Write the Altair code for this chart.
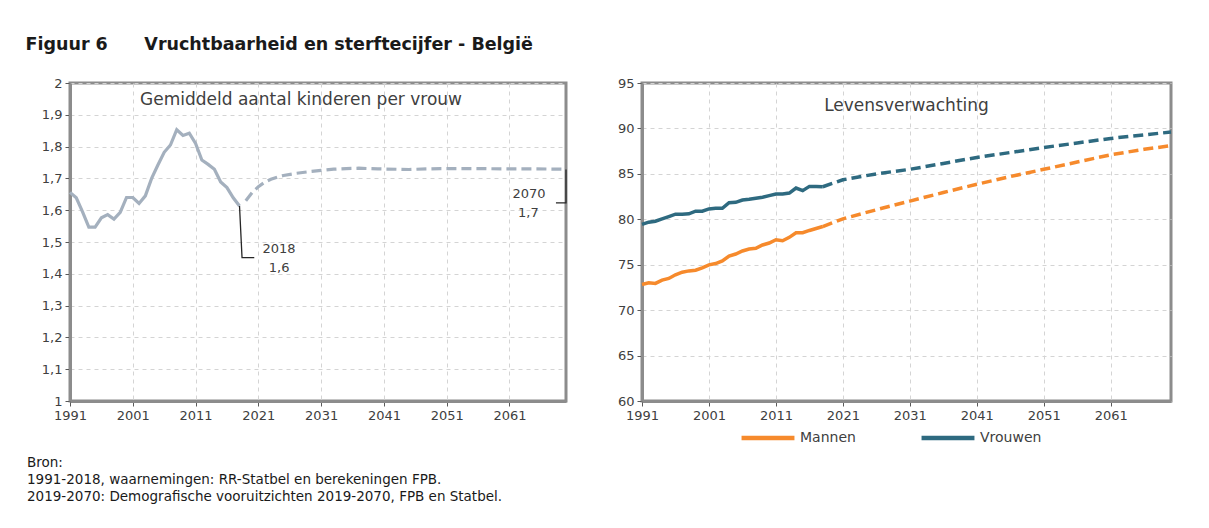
import altair as alt
import pandas as pd

FONT = "DejaVu Sans"
GREY = "#A4B0BE"
ORANGE = "#F68A2C"
TEAL = "#2E6A80"
FRAME = "#8C8C8C"
GRID = "#D4D4D4"
TXT = "#404040"

# ---- data ----
obs_years = list(range(1991, 2019))
fert_obs = [1.656, 1.639, 1.595, 1.547, 1.547, 1.576, 1.586, 1.572, 1.593, 1.640,
            1.640, 1.621, 1.645, 1.700, 1.742, 1.782, 1.805, 1.853, 1.835, 1.842,
            1.810, 1.758, 1.744, 1.729, 1.689, 1.671, 1.639, 1.613]
fert_proj_years = [2019, 2020, 2021, 2022, 2023, 2024, 2025, 2027, 2029, 2031,
                   2033, 2035, 2037, 2040, 2045, 2050, 2055, 2060, 2065, 2070]
fert_proj = [1.630, 1.655, 1.674, 1.688, 1.697, 1.704, 1.709, 1.716, 1.721, 1.725,
             1.729, 1.731, 1.732, 1.730, 1.728, 1.731, 1.731, 1.730, 1.730, 1.729]

le_men_obs = [72.83, 73.01, 72.94, 73.30, 73.49, 73.89, 74.18, 74.32, 74.40, 74.65,
              74.98, 75.13, 75.42, 75.96, 76.18, 76.51, 76.73, 76.80, 77.17, 77.39,
              77.75, 77.64, 78.01, 78.52, 78.52, 78.77, 78.99, 79.20]
le_women_obs = [79.43, 79.68, 79.79, 80.05, 80.30, 80.56, 80.56, 80.60, 80.89, 80.89,
                81.14, 81.21, 81.21, 81.83, 81.87, 82.12, 82.20, 82.31, 82.42, 82.60,
                82.78, 82.78, 82.89, 83.44, 83.15, 83.62, 83.62, 83.58]
le_proj_years = [2018, 2021, 2026, 2031, 2036, 2041, 2046, 2051, 2056, 2061, 2066, 2070]
le_men_proj = [79.20, 80.05, 81.05, 82.00, 82.95, 83.85, 84.70, 85.50, 86.30, 87.10, 87.70, 88.10]
le_women_proj = [83.58, 84.35, 85.00, 85.50, 86.15, 86.80, 87.35, 87.90, 88.40, 88.90, 89.30, 89.60]

sexes = ["Mannen", "Vrouwen"]
x_ticks = [1991, 2001, 2011, 2021, 2031, 2041, 2051, 2061]
fert_ticks = [1.0, 1.1, 1.2, 1.3, 1.4, 1.5, 1.6, 1.7, 1.8, 1.9, 2.0]
le_ticks = [60, 65, 70, 75, 80, 85, 90, 95]

title_text = "Figuur 6" + "\u00a0" * 6 + "Vruchtbaarheid en sterftecijfer - België"
left_label = "Gemiddeld aantal kinderen per vrouw"
right_label = "Levensverwachting"
footer = ("Bron:\n1991-2018, waarnemingen: RR-Statbel en berekeningen FPB.\n"
          "2019-2070: Demografische vooruitzichten 2019-2070, FPB en Statbel.")

# annotations (year, value)
ann_text = ["2018", "1,6", "2070", "1,7"]
ann_x = [2024.3, 2024.3, 2064.1, 2064.0]
ann_y = [1.477, 1.419, 1.651, 1.591]
lead_group = ["a", "a", "a", "b", "b", "b"]
lead_order = [0, 1, 2, 0, 1, 2]
lead_x = [2018.0, 2018.4, 2020.35, 2070.0, 2070.0, 2068.4]
lead_y = [1.613, 1.451, 1.451, 1.728, 1.623, 1.623]

# ---- tables ----
fo = pd.DataFrame({"jaar": obs_years, "waarde": fert_obs})
fp = pd.DataFrame({"jaar": fert_proj_years, "waarde": fert_proj})
ann = pd.DataFrame({"jaar": ann_x, "waarde": ann_y, "t": ann_text})
lead = pd.DataFrame({"jaar": lead_x, "waarde": lead_y, "g": lead_group, "o": lead_order})
lsub = pd.DataFrame({"jaar": [2027.8], "waarde": [1.947], "t": [left_label]})
one = pd.DataFrame({"a": [0]})

leo = pd.concat([
    pd.DataFrame({"jaar": obs_years, "waarde": le_men_obs, "geslacht": sexes[0]}),
    pd.DataFrame({"jaar": obs_years, "waarde": le_women_obs, "geslacht": sexes[1]}),
])
lep = pd.concat([
    pd.DataFrame({"jaar": le_proj_years, "waarde": le_men_proj, "geslacht": sexes[0]}),
    pd.DataFrame({"jaar": le_proj_years, "waarde": le_women_proj, "geslacht": sexes[1]}),
])
rsub = pd.DataFrame({"jaar": [2030.5], "waarde": [92.47], "t": [right_label]})

# ---- encodings ----
xs = alt.Scale(domain=[1991, 2070], nice=False, zero=False)
xax = alt.Axis(values=x_ticks, format="d", title=None, labelFlush=False)
X = alt.X("jaar:Q", scale=xs, axis=xax)

yl = alt.Y("waarde:Q", scale=alt.Scale(domain=[1, 2], nice=False, zero=False),
           axis=alt.Axis(values=fert_ticks, title=None, labelFlush=False,
                         labelExpr="replace(format(datum.value, '.2~f'), '.', ',')"))
yr = alt.Y("waarde:Q", scale=alt.Scale(domain=[60, 95], nice=False, zero=False),
           axis=alt.Axis(values=le_ticks, title=None, format="d", labelFlush=False))

W_L, W_R, H = 496, 529, 318

left = alt.layer(
    alt.Chart(fo).mark_line(color=GREY, strokeWidth=3.2).encode(x=X, y=yl),
    alt.Chart(fp).mark_line(color=GREY, strokeWidth=3.2, strokeDash=[10, 5]).encode(x=X, y=yl),
    alt.Chart(lead).mark_line(color="#262626", strokeWidth=1.3).encode(
        x=X, y=yl, detail="g:N", order="o:Q"),
    alt.Chart(ann).mark_text(font=FONT, fontSize=13, color=TXT).encode(x=X, y=yl, text="t:N"),
    alt.Chart(lsub).mark_text(font=FONT, fontSize=17, color=TXT).encode(x=X, y=yl, text="t:N"),
    alt.Chart(one).mark_text(text=footer, lineBreak="\n", lineHeight=17, font=FONT, fontSize=13.5,
                             color="#1a1a1a", align="left", baseline="middle").encode(
        x=alt.value(-43), y=alt.value(380)),
).properties(width=W_L, height=H)

color = alt.Color("geslacht:N", scale=alt.Scale(domain=sexes, range=[ORANGE, TEAL]),
                  legend=alt.Legend(title=None, orient="none", direction="horizontal",
                                    legendX=669, legendY=326, symbolType="stroke",
                                    symbolSize=2800, symbolStrokeWidth=4.5,
                                    symbolDash=[1, 0], labelFont=FONT, labelFontSize=14,
                                    labelColor=TXT, labelOffset=3, columnPadding=56))

right = alt.layer(
    alt.Chart(leo).mark_line(strokeWidth=3.5).encode(x=X, y=yr, color=color),
    alt.Chart(lep).mark_line(strokeWidth=3.5, strokeDash=[10, 5]).encode(x=X, y=yr, color=color),
    alt.Chart(rsub).mark_text(font=FONT, fontSize=17, color=TXT).encode(x=X, y=yr, text="t:N"),
).properties(width=W_R, height=H)

chart = alt.hconcat(left, right, spacing=41).properties(
    title=alt.TitleParams(title_text, anchor="start", font=FONT, fontSize=17.5, fontWeight="bold",
                          color="#1a1a1a", offset=22),
    padding={"left": 17, "top": 28, "right": 5, "bottom": 5},
).configure_view(stroke=FRAME, strokeWidth=3).configure_axis(
    labelFont=FONT, labelFontSize=13, labelColor=TXT, domainColor=FRAME, domainWidth=3,
    tickColor="#595959", tickWidth=1, tickSize=5, labelPadding=3,
    grid=True, gridColor=GRID, gridDash=[4, 4], gridWidth=1,
)

chart.save("out.html", embed_options={"renderer": "svg", "actions": False})
